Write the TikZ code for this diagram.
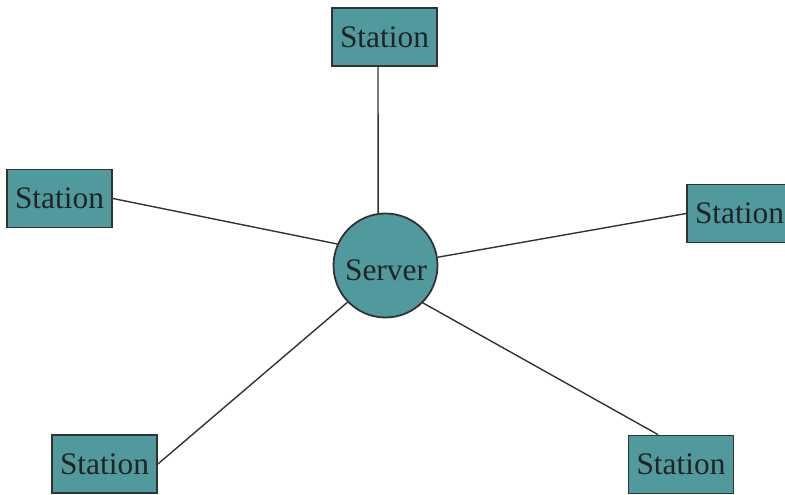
\documentclass[tikz,border=0pt]{standalone}
\usepackage{fontspec}
\setmainfont{Liberation Serif}
\definecolor{tealfill}{RGB}{80,154,158}
\definecolor{edge}{RGB}{50,50,50}
\definecolor{txt}{RGB}{35,35,35}
\tikzset{
  station/.style={draw=edge, line width=1.8bp, fill=tealfill, rectangle,
    minimum width=105bp, minimum height=58bp, inner sep=0pt,
    text=txt, font=\fontsize{31.5}{34}\selectfont},
  server/.style={draw=edge, line width=1.8bp, fill=tealfill, circle,
    minimum size=104bp, inner sep=0pt, text=txt, font=\fontsize{31.5}{34}\selectfont},
  link/.style={draw=edge, line width=1.4bp}
}
\begin{document}
\begin{tikzpicture}[x=1bp,y=-1bp]
\useasboundingbox (0,0) rectangle (785,495);
\node[server] (srv) at (385.5,265.5) {};
\node[text=txt, font=\fontsize{31.5}{34}\selectfont, inner sep=0pt] (srvlabel) at (386,270) {Server};
\node[station] (top) at (384.5,37) {Station};
\node[station] (lft) at (59.5,198.5) {Station};
\node[station] (rgt) at (739.5,213.5) {Station};
\node[station] (bl) at (104.5,464) {Station};
\node[station] (br) at (681,464.5) {Station};
\draw[link] ([xshift=-6.5bp]top.south) -- (srv.98.3);
\draw[link] (lft.east) -- (srv.156.8);
\draw[link] (rgt.west) -- (srv.9.2);
\draw[link] (bl.east) -- (srv.224.2);
\draw[link] ([xshift=-23bp]br.north) -- (srv.-45);
\end{tikzpicture}
\end{document}
